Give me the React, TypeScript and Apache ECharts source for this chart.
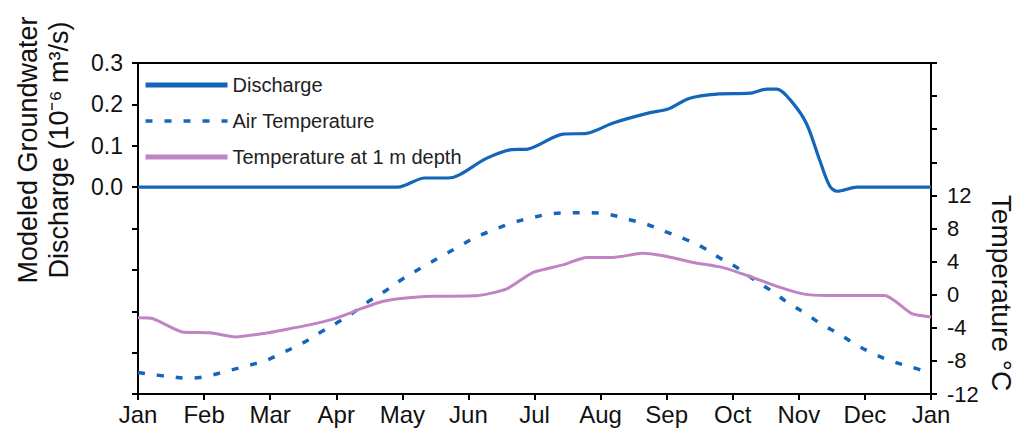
import React, { useEffect, useRef } from "react";
import * as echarts from "echarts";

const monthLabels = ["Jan", "Feb", "Mar", "Apr", "May", "Jun", "Jul", "Aug", "Sep", "Oct", "Nov", "Dec", "Jan"];

// x in months from Jan 1 (0..12)
const dischargeX = [0, 1, 2, 3, 3.93, 4.34, 4.69, 5.28, 5.63, 5.9, 6.43, 6.79, 7.19, 7.75, 8.01, 8.35, 8.76, 9.26, 9.52, 9.67, 9.91, 10.12, 10.32, 10.47, 10.58, 10.88, 11.53, 12];
const dischargeY = [0, 0, 0, 0, 0, 0.022, 0.022, 0.07, 0.09, 0.092, 0.128, 0.13, 0.155, 0.18, 0.188, 0.215, 0.225, 0.227, 0.237, 0.237, 0.203, 0.152, 0.063, 0.002, -0.01, 0, 0, 0];

const airX = [0, 0.48, 0.77, 1.07, 1.36, 1.65, 1.95, 2.19, 2.48, 2.75, 3.01, 3.25, 3.51, 3.77, 4.02, 4.3, 4.56, 4.83, 5.1, 5.37, 5.67, 5.96, 6.27, 6.55, 6.84, 7.13, 7.42, 7.7, 7.99, 8.28, 8.55, 8.81, 9.08, 9.34, 9.58, 9.84, 10.09, 10.35, 10.62, 10.88, 11.15, 11.43, 11.73, 12];
const airY = [-9.4, -9.9, -10.1, -9.8, -9.2, -8.6, -7.9, -7.0, -5.9, -4.6, -3.4, -2.2, -0.7, 0.6, 2.0, 3.3, 4.5, 5.7, 6.9, 7.8, 8.7, 9.3, 9.8, 9.9, 9.9, 9.7, 9.1, 8.5, 7.6, 6.7, 5.7, 4.4, 3.2, 1.7, 0.5, -1.0, -2.2, -3.6, -4.8, -6.1, -7.2, -8.1, -8.8, -9.5];

const depthX = [0, 0.23, 0.67, 1.09, 1.47, 1.89, 2.3, 2.68, 3.01, 3.41, 3.71, 4.05, 4.46, 5.15, 5.58, 5.98, 6.43, 6.79, 7.19, 7.63, 7.95, 8.4, 8.84, 9.26, 9.67, 10.06, 10.43, 11.3, 11.71, 12];
const depthY = [-2.8, -2.9, -4.5, -4.6, -5.1, -4.7, -4.1, -3.5, -2.8, -1.6, -0.8, -0.4, -0.2, -0.1, 0.7, 2.7, 3.6, 4.5, 4.5, 5.0, 4.7, 3.9, 3.3, 2.2, 1.0, 0.1, -0.1, -0.1, -2.3, -2.7];

const seriesNames = ["Discharge", "Air Temperature", "Temperature at 1 m depth"];
const leftAxisTitle = "Modeled Groundwater";
const leftAxisTitle2 = "Discharge (10\u207B\u2076 m\u00B3/s)";
const rightAxisTitle = "Temperature \u00B0C";

const pair = (xs: number[], ys: number[]) => xs.map((x, i) => [x, ys[i]]);

const FONT = "Liberation Sans, Arial, sans-serif";
const BLUE = "#1466b8";
const PURPLE = "#c084c4";

export default function App() {
  const ref = useRef<HTMLDivElement>(null);
  useEffect(() => {
    if (!ref.current) return;
    const chart = echarts.init(ref.current, undefined, { renderer: "svg" });
    const axisLine = { show: true, onZero: false, lineStyle: { color: "#000", width: 2 } };
    chart.setOption({
      animation: false,
      textStyle: { fontFamily: FONT },
      grid: { left: 138, right: 87, top: 63, bottom: 47, containLabel: false },
      legend: {
        orient: "vertical",
        left: 138,
        top: 70,
        itemWidth: 82,
        itemHeight: 14,
        itemGap: 16,
        textGap: 3,
        itemStyle: { opacity: 0 },
        textStyle: { fontSize: 20, color: "#222", fontFamily: FONT },
        data: [
          { name: seriesNames[0], lineStyle: { width: 5 } },
          { name: seriesNames[1], lineStyle: { width: 3.5 } },
          { name: seriesNames[2], lineStyle: { width: 5 } },
        ],
      },
      xAxis: [
        {
          type: "value",
          min: 0,
          max: 12,
          interval: 1,
          axisLine,
          axisTick: { show: true, length: 6, lineStyle: { color: "#000", width: 2 } },
          splitLine: { show: false },
          axisLabel: {
            fontSize: 24,
            color: "#111",
            margin: 8,
            formatter: (v: number) => monthLabels[Math.round(v)] ?? "",
          },
        },
        {
          type: "value",
          position: "top",
          min: 0,
          max: 12,
          axisLine,
          axisTick: { show: false },
          axisLabel: { show: false },
          splitLine: { show: false },
        },
      ],
      yAxis: [
        {
          type: "value",
          min: -0.5,
          max: 0.3,
          interval: 0.1,
          axisLine,
          axisTick: { show: true, length: 6, lineStyle: { color: "#000", width: 2 } },
          splitLine: { show: false },
          axisLabel: {
            fontSize: 23,
            color: "#111",
            margin: 15,
            formatter: (v: number) => (v > -0.05 ? (Math.abs(v) < 1e-9 ? 0 : v).toFixed(1) : ""),
          },
        },
        {
          type: "value",
          position: "right",
          min: -12,
          max: 28,
          interval: 4,
          axisLine,
          axisTick: { show: true, length: 6, lineStyle: { color: "#000", width: 2 } },
          splitLine: { show: false },
          axisLabel: {
            fontSize: 22,
            color: "#111",
            margin: 16,
            formatter: (v: number) => (v <= 12 ? String(Math.round(v)) : ""),
          },
        },
      ],
      graphic: [
        {
          type: "text",
          x: 43,
          y: 150,
          rotation: Math.PI / 2,
          style: {
            text: leftAxisTitle + "\n" + leftAxisTitle2,
            font: "27px " + FONT,
            fill: "#111",
            align: "center",
            verticalAlign: "middle",
            lineHeight: 31,
          },
        },
        {
          type: "text",
          x: 1001,
          y: 293,
          rotation: -Math.PI / 2,
          style: {
            text: rightAxisTitle,
            font: "28px " + FONT,
            fill: "#111",
            align: "center",
            verticalAlign: "middle",
          },
        },
      ],
      series: [
        {
          name: seriesNames[0],
          type: "line",
          xAxisIndex: 0,
          yAxisIndex: 0,
          data: pair(dischargeX, dischargeY),
          symbol: "none",
          smooth: 0.3,
          lineStyle: { color: BLUE, width: 3.2 },
          itemStyle: { color: BLUE },
          z: 3,
        },
        {
          name: seriesNames[1],
          type: "line",
          xAxisIndex: 0,
          yAxisIndex: 1,
          data: pair(airX, airY),
          symbol: "none",
          smooth: 0.4,
          lineStyle: { color: BLUE, width: 3.5, type: [7, 12] },
          itemStyle: { color: BLUE },
          z: 2,
        },
        {
          name: seriesNames[2],
          type: "line",
          xAxisIndex: 0,
          yAxisIndex: 1,
          data: pair(depthX, depthY),
          symbol: "none",
          smooth: 0.2,
          lineStyle: { color: PURPLE, width: 3 },
          itemStyle: { color: PURPLE },
          z: 2,
        },
      ],
    });
    return () => chart.dispose();
  }, []);
  return <div ref={ref} style={{ width: 1018, height: 441, position: "absolute", left: 0, top: 0 }} />;
}
